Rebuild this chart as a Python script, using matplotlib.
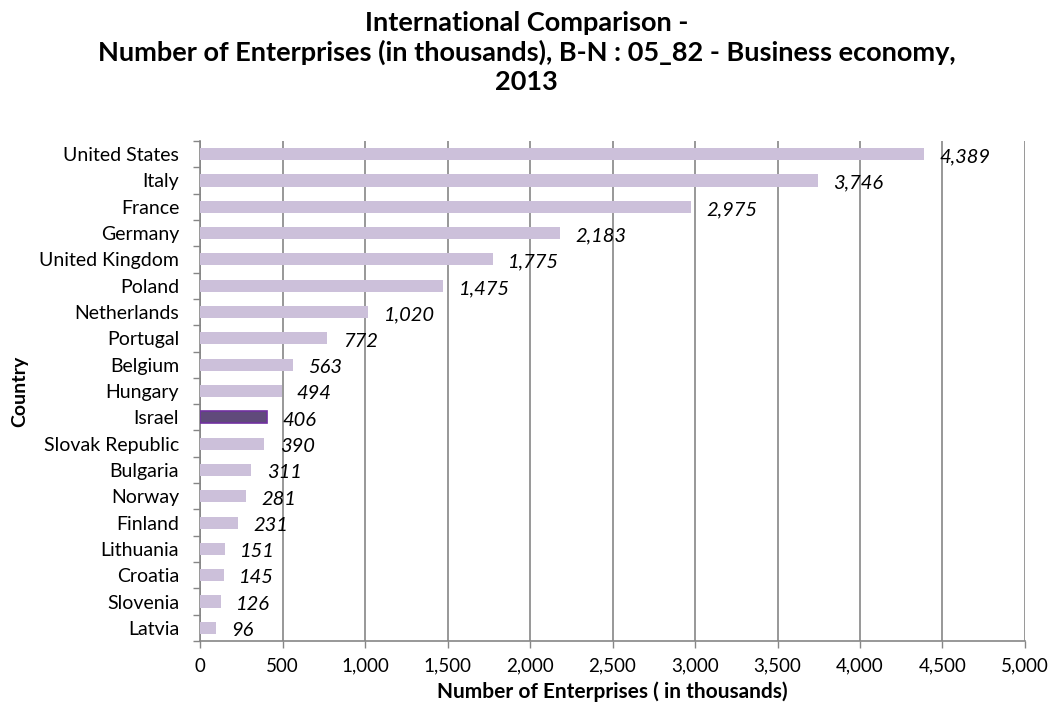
import matplotlib
matplotlib.use("Agg")
import matplotlib.pyplot as plt

countries = ["United States", "Italy", "France", "Germany", "United Kingdom", "Poland",
             "Netherlands", "Portugal", "Belgium", "Hungary", "Israel", "Slovak Republic",
             "Bulgaria", "Norway", "Finland", "Lithuania", "Croatia", "Slovenia", "Latvia"]
values = [4389, 3746, 2975, 2183, 1775, 1475, 1020, 772, 563, 494, 406, 390,
          311, 281, 231, 151, 145, 126, 96]
highlight = "Israel"

plt.rcParams['font.family'] = ['Lato', 'DejaVu Sans']

fig = plt.figure(figsize=(10.53, 7.15), dpi=100)
ax = fig.add_axes([0.19, 0.1035, 0.7834, 0.6993])

n = len(countries)
ypos = list(range(n))
colors = ["#604A7B" if c == highlight else "#CCC0DA" for c in countries]
edges = ["#7030A0" if c == highlight else "none" for c in countries]
ax.barh(ypos, values, height=0.46, color=colors, edgecolor=edges, linewidth=1.2, zorder=3)

for y, v in zip(ypos, values):
    ax.annotate(f"{v:,}", xy=(v, y), xytext=(11, -2), textcoords="offset points",
                ha="left", va="center", fontsize=14.5, style="italic", color="black", zorder=4)

ax.set_ylim(n - 0.5, -0.5)
ax.set_xlim(0, 5000)
ax.set_xticks(range(0, 5001, 500))
ax.set_xticklabels([f"{t:,}" for t in range(0, 5001, 500)], fontsize=13.5)
ax.set_yticks(ypos)
ax.set_yticklabels(countries, fontsize=14)
ax.yaxis.set_minor_locator(matplotlib.ticker.FixedLocator([i - 0.5 for i in range(n + 1)]))
ax.tick_params(axis='y', which='major', length=0, pad=15)
ax.tick_params(axis='y', which='minor', length=5, width=1, color="#868686")
ax.tick_params(axis='x', length=5, width=1, color="#868686", pad=7)

ax.grid(axis='x', color="#868686", linewidth=1.2, zorder=0)
for s in ["top", "right"]:
    ax.spines[s].set_visible(False)
for s in ["left", "bottom"]:
    ax.spines[s].set_color("#868686")
    ax.spines[s].set_linewidth(1.2)

ax.set_xlabel("Number of Enterprises ( in thousands)", fontsize=15, fontweight="bold", labelpad=5)
ax.set_ylabel("Country", fontsize=14, fontweight="bold", labelpad=8)

fig.text(0.5, 0.985, "International Comparison -\nNumber of Enterprises (in thousands), B-N : 05_82 - Business economy,\n2013",
         ha="center", va="top", fontsize=19.5, fontweight="bold", linespacing=1.24)

fig.savefig("out.png", dpi=100)
